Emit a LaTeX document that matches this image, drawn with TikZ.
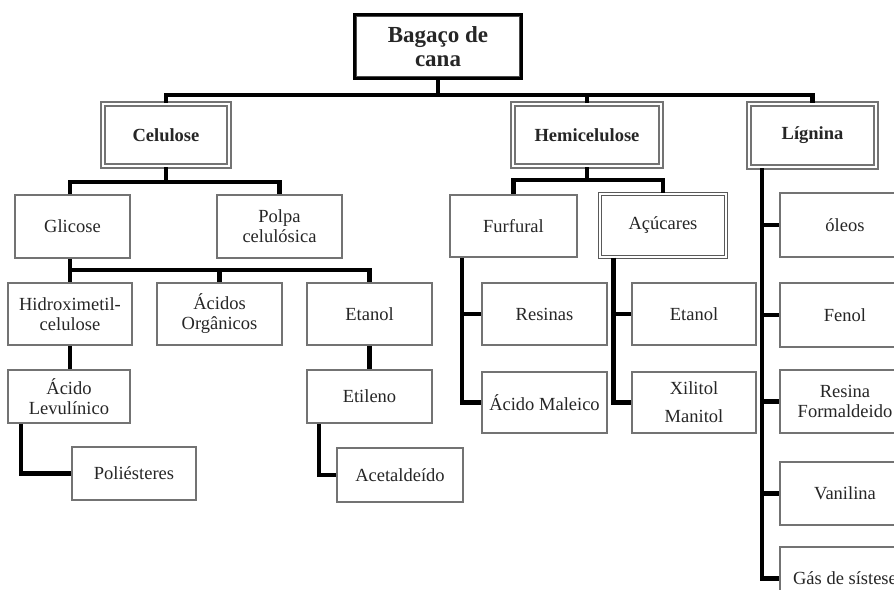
\documentclass[tikz,border=0pt]{standalone}
\usepackage{fontspec}
\setmainfont{Liberation Serif}
\usetikzlibrary{shadows}
\begin{document}
\begin{tikzpicture}[x=1pt,y=-1pt,
  txt/.style={font=\fontsize{18.5}{20}\selectfont, text=black!85, align=center, inner sep=0pt},
  box/.style={txt, draw=black!55, line width=1.6pt, fill=white},
  dbox/.style={box, draw=black!65, double=white, double distance=1.6pt, line width=1.3pt},
  topbox/.style={txt, font=\fontsize{18.5}{20}\selectfont\bfseries, draw=black!55, double=white, double distance=1.2pt, line width=2pt, fill=white, drop shadow={shadow xshift=2pt, shadow yshift=2pt, opacity=0.35}},
  rootbox/.style={txt, font=\fontsize{23}{24}\selectfont\bfseries, draw=black, line width=4.5pt, fill=white},
  conn/.style={draw=black, line width=4.5pt}
]
\useasboundingbox (0,0) rectangle (894,589);
% root
\node[rootbox, minimum width=166, minimum height=63] (root) at (438,46.5) {Bagaço de\\cana};
\draw[black!70, line width=1pt] ([shift={(4,4)}]root.north west) rectangle ([shift={(-4,-4)}]root.south east);
% level 1
\node[topbox, minimum width=126, minimum height=62] (cel) at (166,135) {Celulose};
\node[topbox, minimum width=148, minimum height=62] (hemi) at (587,135) {Hemicelulose};
\node[topbox, minimum width=127, minimum height=63] (lig) at (812.5,135.5) {Lígnina};
% level 2
\node[box, minimum width=115, minimum height=63] (glic) at (72.5,226.5) {Glicose};
\node[box, minimum width=125, minimum height=63] (polpa) at (279.5,226.5) {Polpa\\celulósica};
\node[box, minimum width=127, minimum height=62] (furf) at (513.5,226) {Furfural};
\node[dbox, minimum width=126, minimum height=63] (acuc) at (663,225.5) {Açúcares};
\node[box, minimum width=130, minimum height=64] (oleos) at (845,225) {óleos};
% level 3
\node[box, minimum width=124, minimum height=62] (hidro) at (70,314) {Hidroximetil-\\celulose};
\node[box, minimum width=125, minimum height=62] (acorg) at (219.5,314) {Ácidos\\Orgânicos};
\node[box, minimum width=125, minimum height=62] (etan1) at (369.5,314) {Etanol};
\node[box, minimum width=125, minimum height=62] (resinas) at (544.5,314) {Resinas};
\node[box, minimum width=124, minimum height=62] (etan2) at (694,314) {Etanol};
\node[box, minimum width=130, minimum height=64] (fenol) at (845,315) {Fenol};
% level 4
\node[box, minimum width=122, minimum height=53] (levul) at (69,396.5) {Ácido\\Levulínico};
\node[box, minimum width=125, minimum height=53] (etil) at (369.5,396.5) {Etileno};
\node[box, minimum width=125, minimum height=61] (maleico) at (544.5,402.5) {Ácido Maleico};
\node[box, minimum width=124, minimum height=61, font=\fontsize{18.5}{28}\selectfont] (xilitol) at (694,402.5) {Xilitol\\Manitol};
\node[box, minimum width=130, minimum height=63] (resform) at (845,401.5) {Resina\\Formaldeido};
% level 5
\node[box, minimum width=124, minimum height=53] (polies) at (134,473.5) {Poliésteres};
\node[box, minimum width=126, minimum height=54] (acetal) at (400,475) {Acetaldeído};
\node[box, minimum width=130, minimum height=63] (vanil) at (845,493.5) {Vanilina};
\node[box, minimum width=130, minimum height=63] (gas) at (845,578.5) {Gás de sístese};
% connectors
\coordinate (b1) at (440,95);
\draw[conn] (root.south) -- (root.south |- b1);
\draw[conn] (cel.north) -- (cel.north |- b1) -- (lig.north |- b1) -- (lig.north);
\draw[conn] (hemi.north) -- (hemi.north |- b1);
\coordinate (b2) at (167,182);
\draw[conn] (cel.south) -- (cel.south |- b2);
\draw[conn] ([xshift=-2.5]glic.north) -- ([xshift=-2.5]glic.north |- b2) -- (polpa.north |- b2) -- (polpa.north);
\coordinate (b3) at (70,270);
\draw[conn] ([xshift=-2.5]glic.south) -- (hidro.north);
\draw[conn] (hidro.north |- b3) -- (etan1.north |- b3) -- (etan1.north);
\draw[conn] (acorg.north) -- (acorg.north |- b3);
\draw[conn] (hidro.south) -- ([xshift=1]levul.north);
\draw[conn] ([xshift=14]levul.south west) |- (polies.west);
\draw[conn] (etan1.south) -- (etil.north);
\draw[conn] ([xshift=13]etil.south west) |- (acetal.west);
\coordinate (b4) at (587,180);
\draw[conn] (hemi.south) -- (hemi.south |- b4);
\draw[conn] (furf.north) -- (furf.north |- b4) -- (acuc.north |- b4) -- (acuc.north);
\draw[conn] ([xshift=13]furf.south west) |- (maleico.west);
\draw[conn] ([xshift=13]furf.south west |- resinas.west) -- (resinas.west);
\draw[conn] ([xshift=14]acuc.south west) |- (xilitol.west);
\draw[conn] ([xshift=14]acuc.south west |- etan2.west) -- (etan2.west);
\draw[conn] ([xshift=14]lig.south west) |- (gas.west);
\foreach \n in {oleos,fenol,resform,vanil}
  \draw[conn] ([xshift=14]lig.south west |- \n.west) -- (\n.west);
\end{tikzpicture}
\end{document}
